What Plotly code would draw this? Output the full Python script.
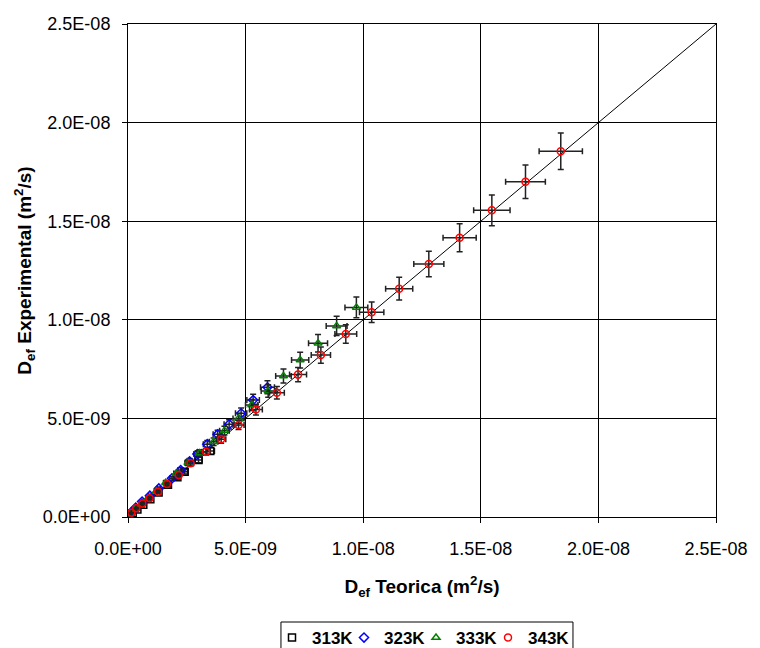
import plotly.graph_objects as go

# ---- data (units of 1E-09 m^2/s) ----
x313 = [0.05, 0.20, 0.40, 0.65, 0.95, 1.30, 1.70, 2.10, 2.41, 3.00, 3.50]
y313 = [0.05, 0.19, 0.38, 0.62, 0.90, 1.24, 1.63, 2.02, 2.30, 2.89, 3.35]

x323 = [0.03, 0.12, 0.33, 0.60, 0.93, 1.31, 1.87, 2.24, 2.62, 2.95, 3.37, 3.81, 4.30, 4.81, 5.32, 5.93]
y323 = [0.08, 0.22, 0.48, 0.78, 1.08, 1.45, 1.96, 2.38, 2.82, 3.19, 3.69, 4.19, 4.70, 5.26, 5.93, 6.58]

x333 = [0.12, 0.30, 0.55, 0.85, 1.20, 1.60, 2.05, 2.55, 3.05, 3.64, 4.10, 4.70, 5.26, 5.96, 6.61, 7.32, 8.08, 8.87, 9.71]
y333 = [0.17, 0.38, 0.64, 0.95, 1.31, 1.74, 2.20, 2.75, 3.25, 3.82, 4.38, 5.00, 5.68, 6.39, 7.15, 7.96, 8.81, 9.69, 10.63]

x343 = [0.14, 0.35, 0.61, 0.92, 1.28, 1.66, 2.16, 2.66, 3.32, 3.96, 4.70, 5.44, 6.33, 7.23, 8.20, 9.26, 10.36, 11.53, 12.79, 14.10, 15.47, 16.90, 18.40]
y343 = [0.22, 0.44, 0.69, 0.95, 1.28, 1.67, 2.13, 2.72, 3.31, 3.94, 4.67, 5.45, 6.30, 7.22, 8.21, 9.28, 10.38, 11.58, 12.83, 14.16, 15.55, 17.00, 18.55]

series_names = ["313K", "323K", "333K", "343K"]
tick_vals = [0, 5e-9, 1e-8, 1.5e-8, 2e-8, 2.5e-8]
tick_text = ["0.0E+00", "5.0E-09", "1.0E-08", "1.5E-08", "2.0E-08", "2.5E-08"]
line_x = [0, 2.5e-8]
line_y = [0, 2.5e-8]

scale = 1e-9
series = [
    (x313, y313, "black", "square-open"),
    (x323, y323, "blue", "diamond-open"),
    (x333, y333, "green", "triangle-up-open"),
    (x343, y343, "red", "circle-open"),
]

fig = go.Figure()
fig.add_trace(go.Scatter(x=line_x, y=line_y, mode="lines",
                         line=dict(color="black", width=1), showlegend=False,
                         hoverinfo="skip"))

err_style = dict(type="percent", value=5, color="#222", thickness=1.5, width=3)
for (xs, ys, col, sym), name in zip(series, series_names):
    fig.add_trace(go.Scatter(
        x=[v * scale for v in xs], y=[v * scale for v in ys],
        mode="markers", name=name,
        marker=dict(symbol=sym, size=7, color=col, line=dict(color=col, width=1.5)),
        error_x=err_style, error_y=err_style,
    ))

# empty spacer entry so the last legend label is not clipped
fig.add_trace(go.Scatter(x=[None], y=[None], mode="markers", name=" ",
                         marker=dict(color="rgba(0,0,0,0)", size=1),
                         hoverinfo="skip"))

axis_common = dict(
    range=[0, 2.5e-8], tickvals=tick_vals, ticktext=tick_text,
    showgrid=True, gridcolor="black", gridwidth=1,
    showline=True, linecolor="black", linewidth=1, mirror=True,
    ticks="outside", ticklen=5, tickcolor="black",
    tickfont=dict(family="Liberation Sans, Arial", size=18, color="black"),
    zeroline=False,
)

# plot area: x 128..720, y 24..517
W, H = 760, 648
L, R, T, B = 128, 40, 24, 131
pw, ph = W - L - R, H - T - B

def px_x(p):
    return (p - L) / pw

def px_y(p):
    return (H - B - p) / ph

fig.update_layout(
    width=W, height=H,
    margin=dict(l=L, r=R, t=T, b=B),
    paper_bgcolor="white", plot_bgcolor="white",
    font=dict(family="Liberation Sans, Arial", color="black"),
    xaxis=dict(**axis_common,
               title=dict(text="<b>D<sub>ef</sub> Teorica (m<sup>2</sup>/s)</b>",
                          font=dict(size=19), standoff=22),
               ticklabelstandoff=10),
    yaxis=dict(**axis_common,
               title=dict(text="<b>D<sub>ef</sub> Experimental (m<sup>2</sup>/s)</b>",
                          font=dict(size=19), standoff=6),
               ticklabelstandoff=8),
    legend=dict(orientation="h", xref="container", x=272 / W, xanchor="left",
                yref="container", y=(H - 620) / H, yanchor="top",
                borderwidth=0, bgcolor="rgba(0,0,0,0)",
                font=dict(size=17, family="Liberation Sans, Arial", weight="bold"),
                itemwidth=30, entrywidth=27),
    showlegend=True,
    shapes=[dict(type="rect", xref="paper", yref="paper",
                 x0=px_x(282), x1=px_x(576), y0=px_y(622), y1=px_y(660),
                 line=dict(color="black", width=1), fillcolor="rgba(0,0,0,0)",
                 layer="below")],
)

fig.write_html("out.html")
